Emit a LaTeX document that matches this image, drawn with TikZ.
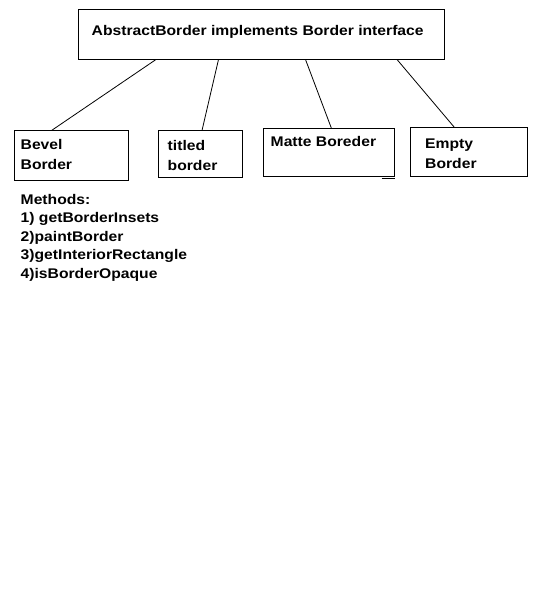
\documentclass[tikz,border=0pt]{standalone}
\usepackage{fontspec}
\setmainfont{Liberation Sans}[FakeStretch=1.12]
\begin{document}
\begin{tikzpicture}[x=1pt,y=1pt,
  boxstyle/.style={draw=black,line width=1pt,inner sep=0pt,outer sep=0pt,anchor=north west},
  conn/.style={draw=black,line width=0.8pt},
  lbl/.style={inner sep=0pt,anchor=base west,font=\fontsize{14}{18}\selectfont\bfseries}]
\useasboundingbox[fill=white] (0,0) rectangle (550,-600);
% boxes
\node[boxstyle,minimum width=366pt,minimum height=50pt] (top) at (78.5,-9.5) {};
\node[boxstyle,minimum width=114pt,minimum height=50pt] (bevel) at (14.5,-130.5) {};
\node[boxstyle,minimum width=84pt,minimum height=47pt] (titled) at (158.5,-130.5) {};
\node[boxstyle,minimum width=131pt,minimum height=48pt] (matte) at (263.5,-128.5) {};
\node[boxstyle,minimum width=117pt,minimum height=48.5pt] (empty) at (410.5,-127.5) {};
% texts
\node[lbl] (ttop) at (91.5,-35) {AbstractBorder implements Border interface};
\node[lbl] (tbev1) at (20.5,-149) {Bevel};
\node[lbl] (tbev2) at (20.5,-169) {Border};
\node[lbl] (ttit1) at (167.5,-150) {titled};
\node[lbl] (ttit2) at (167.5,-170) {border};
\node[lbl] (tmat) at (270.5,-146) {Matte Boreder};
\node[lbl] (temp1) at (425,-148) {Empty};
\node[lbl] (temp2) at (425,-168) {Border};
\node[lbl] (m0) at (20.5,-204) {Methods:};
\node[lbl] (m1) at (20.5,-222.5) {1) getBorderInsets};
\node[lbl] (m2) at (20.5,-241) {2)paintBorder};
\node[lbl] (m3) at (20.5,-259.5) {3)getInteriorRectangle};
\node[lbl] (m4) at (20.5,-278) {4)isBorderOpaque};
% connectors
\draw[conn] ([xshift=77.5pt]top.south west) -- ([xshift=37pt]bevel.north west);
\draw[conn] ([xshift=140pt]top.south west) -- ([xshift=43.5pt]titled.north west);
\draw[conn] ([xshift=227pt]top.south west) -- ([xshift=68pt]matte.north west);
\draw[conn] ([xshift=318.5pt]top.south west) -- ([xshift=44pt]empty.north west);
% stray mark under Matte box
\draw[line width=1pt] ([xshift=-13pt,yshift=-2pt]matte.south east) -- ([yshift=-2pt]matte.south east);
\end{tikzpicture}
\end{document}
